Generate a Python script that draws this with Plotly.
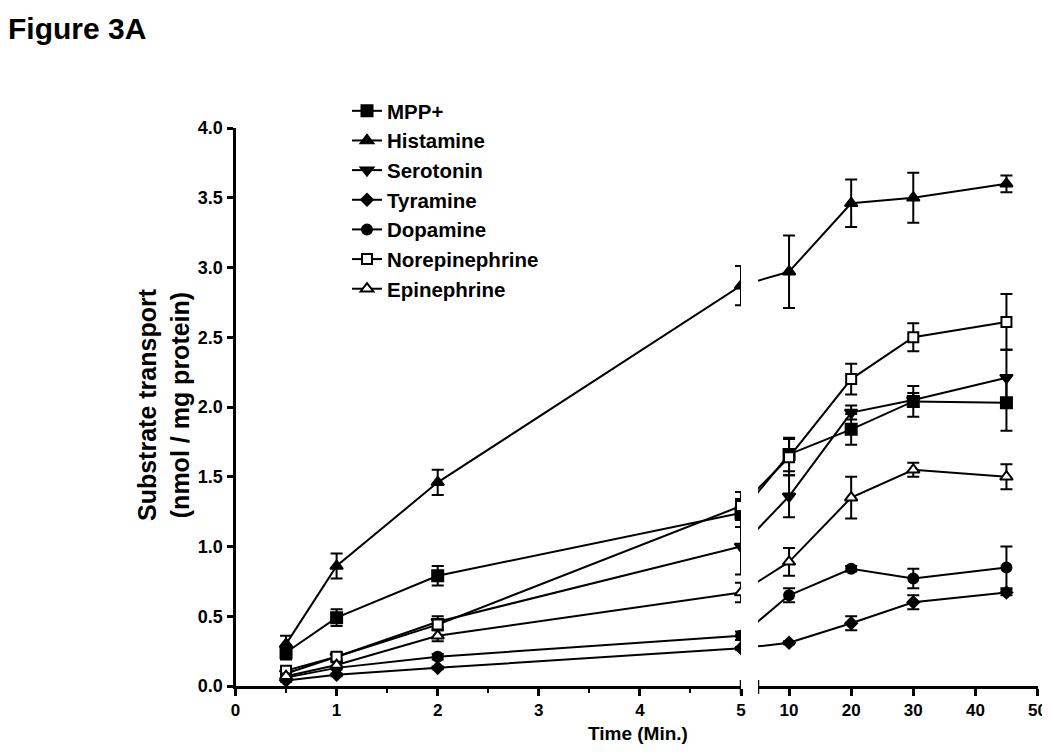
import plotly.graph_objects as go

# ---------------- data ----------------
series_names = ["MPP+", "Histamine", "Serotonin", "Tyramine", "Dopamine",
                "Norepinephrine", "Epinephrine"]

t_early = [0.5, 1, 2, 5]          # minutes (left segment)
t_late = [10, 20, 30, 45]         # minutes (right segment)

mpp_early = [0.24, 0.49, 0.79, 1.24]
mpp_early_err = [0.05, 0.06, 0.07, 0.10]
mpp_late = [1.66, 1.84, 2.04, 2.03]
mpp_late_err = [0.12, 0.11, 0.11, 0.20]

his_early = [0.30, 0.86, 1.46, 2.87]
his_early_err = [0.06, 0.09, 0.09, 0.14]
his_late = [2.97, 3.46, 3.50, 3.60]
his_late_err = [0.26, 0.17, 0.18, 0.06]

ser_early = [0.09, 0.21, 0.46, 1.00]
ser_early_err = [0.02, 0.02, 0.04, 0.20]
ser_late = [1.36, 1.96, 2.05, 2.21]
ser_late_err = [0.15, 0.05, 0.05, 0.20]

tyr_early = [0.04, 0.08, 0.13, 0.27]
tyr_early_err = [0.01, 0.01, 0.01, 0.01]
tyr_late = [0.31, 0.45, 0.60, 0.67]
tyr_late_err = [0.01, 0.05, 0.05, 0.02]

dop_early = [0.06, 0.13, 0.21, 0.36]
dop_early_err = [0.01, 0.01, 0.02, 0.03]
dop_late = [0.65, 0.84, 0.77, 0.85]
dop_late_err = [0.05, 0.02, 0.07, 0.15]

ne_early = [0.11, 0.21, 0.44, 1.29]
ne_early_err = [0.03, 0.03, 0.04, 0.10]
ne_late = [1.64, 2.20, 2.50, 2.61]
ne_late_err = [0.13, 0.11, 0.10, 0.20]

epi_early = [0.07, 0.15, 0.36, 0.67]
epi_early_err = [0.02, 0.02, 0.04, 0.07]
epi_late = [0.89, 1.35, 1.55, 1.50]
epi_late_err = [0.10, 0.15, 0.05, 0.09]

x_ticks_left = [0, 1, 2, 3, 4, 5]
x_ticks_right = [10, 20, 30, 40, 50]
y_ticks = [0.0, 0.5, 1.0, 1.5, 2.0, 2.5, 3.0, 3.5, 4.0]

# ---------------- geometry ----------------
# The page places the figure 8 px from the top-left corner of the window;
# the figure is sized so the page needs no scrollbars, and screen pixels
# are converted to paper fractions here.
OFF = 8
W, H = 1050 - OFF, 752 - 2 * OFF


def fx(px):
    return (px - OFF) / W


def fy(py):
    return 1 - (py - OFF) / H


symbols = ["square", "triangle-up", "triangle-down", "diamond", "circle",
           "square", "triangle-up"]
fills = ["black", "black", "black", "black", "black", "white", "white"]
msizes = [11, 11, 11, 9, 10, 10, 11]

early = [mpp_early, his_early, ser_early, tyr_early, dop_early, ne_early, epi_early]
early_err = [mpp_early_err, his_early_err, ser_early_err, tyr_early_err,
             dop_early_err, ne_early_err, epi_early_err]
late = [mpp_late, his_late, ser_late, tyr_late, dop_late, ne_late, epi_late]
late_err = [mpp_late_err, his_late_err, ser_late_err, tyr_late_err,
            dop_late_err, ne_late_err, epi_late_err]

left_dom = [fx(235.5), fx(741)]
right_dom = [fx(758), fx(1037.5)]
y_dom = [fy(686), fy(128)]
left_range = [0, 5]
right_range = [5, 50]

# x position (in right-axis units) of the left segment's last time point,
# so the connecting line crosses the break in screen space
px_last = left_dom[0] + (t_early[-1] - left_range[0]) / (left_range[1] - left_range[0]) * (left_dom[1] - left_dom[0])
x_last_in_right = right_range[0] + (px_last - right_dom[0]) / (right_dom[1] - right_dom[0]) * (right_range[1] - right_range[0])

fig = go.Figure()
for i, name in enumerate(series_names):
    mk = dict(symbol=symbols[i], size=msizes[i], color=fills[i],
              line=dict(color="black", width=2))
    eb = dict(type="data", visible=True, color="black", thickness=2, width=6)
    # left segment
    fig.add_trace(go.Scatter(
        x=t_early, y=early[i], name=name, legendgroup=name,
        mode="lines+markers", line=dict(color="black", width=2),
        marker=mk, error_y=dict(array=early_err[i], **eb),
        xaxis="x", yaxis="y"))
    # connector across the break (right segment)
    fig.add_trace(go.Scatter(
        x=[x_last_in_right, t_late[0]], y=[early[i][-1], late[i][0]],
        mode="lines", line=dict(color="black", width=2),
        legendgroup=name, showlegend=False, hoverinfo="skip",
        xaxis="x2", yaxis="y"))
    # right segment
    fig.add_trace(go.Scatter(
        x=t_late, y=late[i], name=name, legendgroup=name, showlegend=False,
        mode="lines+markers", line=dict(color="black", width=2),
        marker=mk, error_y=dict(array=late_err[i], **eb),
        xaxis="x2", yaxis="y"))

axis_common = dict(showgrid=False, zeroline=False, showline=True,
                   linecolor="black", linewidth=3, ticks="outside",
                   tickcolor="black", tickwidth=2.5, automargin=False)
y_tickfont = dict(size=18, weight="bold", color="black")
x_tickfont = dict(size=17, weight="bold", color="black")

# small end marks at the axis break
break_marks = [
    dict(type="line", xref="x", yref="paper", x0=left_range[1], x1=left_range[1],
         y0=fy(680), y1=fy(694), line=dict(color="black", width=2.5)),
    dict(type="line", xref="x2", yref="paper", x0=right_range[0], x1=right_range[0],
         y0=fy(680), y1=fy(694), line=dict(color="black", width=2.5)),
]

fig.update_layout(
    template="none",
    width=W, height=H,
    margin=dict(l=0, r=0, t=0, b=0, pad=0),
    paper_bgcolor="white", plot_bgcolor="white",
    font=dict(family="Liberation Sans, Arial, sans-serif", color="black"),
    xaxis=dict(domain=left_dom, range=left_range, anchor="y",
               tickvals=x_ticks_left, ticklen=7, tickfont=x_tickfont,
               minor=dict(dtick=0.5, tick0=0, ticks="outside", ticklen=4,
                          tickwidth=2, tickcolor="black", showgrid=False),
               **axis_common),
    xaxis2=dict(domain=right_dom, range=right_range, anchor="y",
                tickvals=x_ticks_right, ticklen=7, tickfont=x_tickfont,
                **axis_common),
    yaxis=dict(domain=y_dom, range=[0, 4], anchor="x",
               tickvals=y_ticks, tickformat=".1f", ticklen=6,
               tickfont=y_tickfont, **axis_common),
    shapes=break_marks,
    showlegend=True,
    legend=dict(x=fx(347), y=fy(91), xanchor="left", yanchor="top",
                bgcolor="rgba(0,0,0,0)", borderwidth=0,
                traceorder="grouped", tracegroupgap=0,
                font=dict(size=20.5, weight="bold", color="black")),
    annotations=[
        dict(text="Figure 3A", x=fx(6), y=fy(28), xref="paper", yref="paper",
             xanchor="left", yanchor="middle", showarrow=False,
             font=dict(size=30, weight="bold", color="black")),
        dict(text="Substrate transport<br>(nmol / mg protein)",
             x=fx(163), y=fy(405), xref="paper", yref="paper",
             xanchor="center", yanchor="middle", textangle=-90, showarrow=False,
             font=dict(size=25, weight="bold", color="black")),
        dict(text="Time (Min.)", x=fx(638), y=fy(733), xref="paper", yref="paper",
             xanchor="center", yanchor="middle", showarrow=False,
             font=dict(size=19, weight="bold", color="black")),
    ],
)

fig.write_html("out.html")
